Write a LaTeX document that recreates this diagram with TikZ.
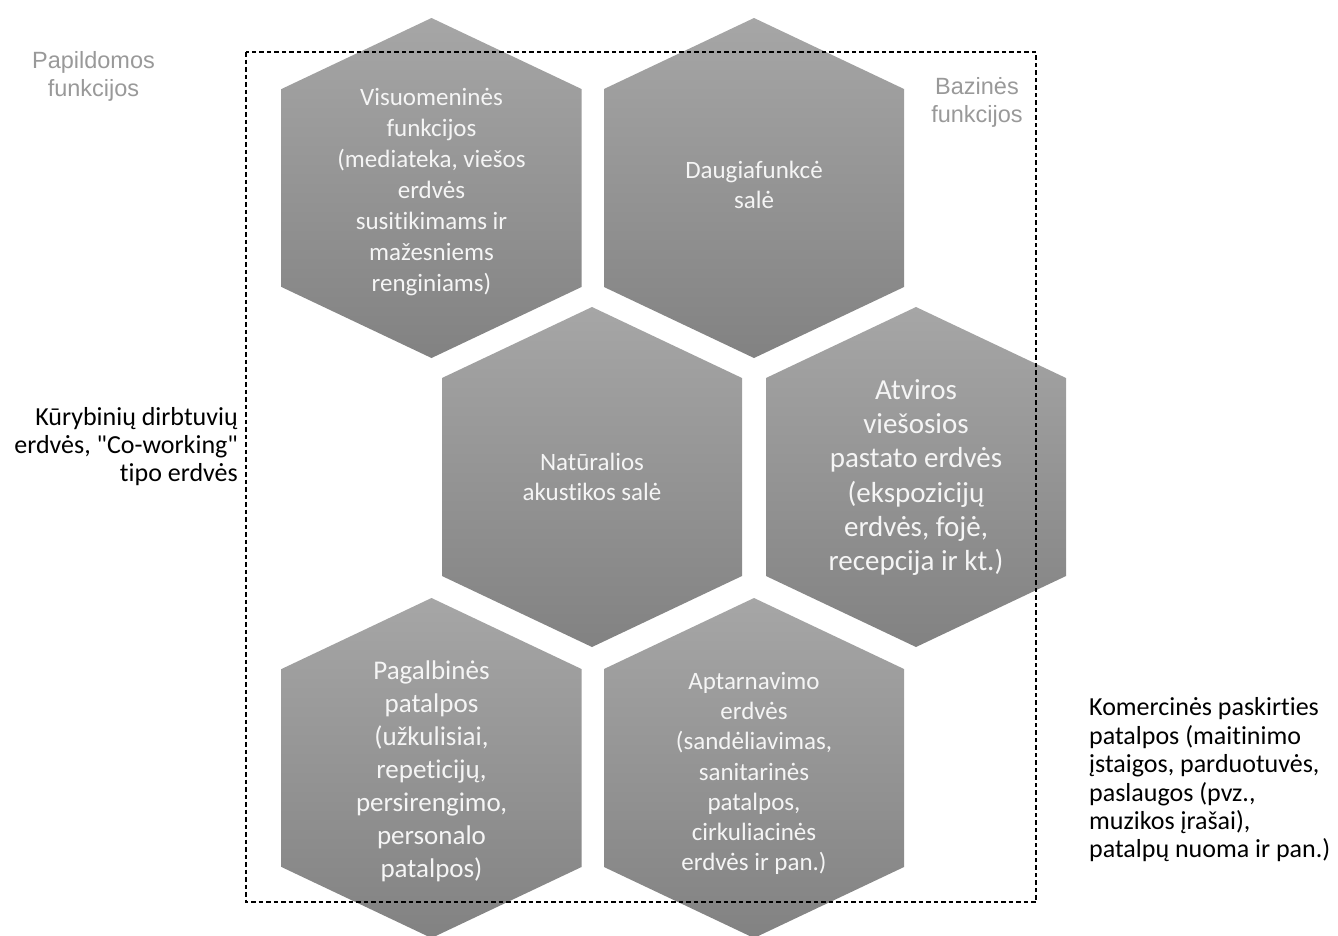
\documentclass[tikz,border=0pt]{standalone}
\usepackage{fontspec}
\setmainfont{Carlito}[Ligatures=CommonOff]
\newfontfamily\plaincarlito{Carlito}[Ligatures={TeXOff,CommonOff}]
\newfontfamily\arialf{Liberation Sans}
\usetikzlibrary{calc}
\definecolor{hexTop}{RGB}{166,166,166}
\definecolor{hexBot}{RGB}{130,130,130}
\definecolor{lblGray}{RGB}{153,153,153}
\definecolor{hexText}{RGB}{245,245,245}
\tikzset{
  hexfill/.style={top color=hexTop,bottom color=hexBot,draw=none},
  hextext/.style={text=hexText,align=center,inner sep=0pt},
  sidelbl/.style={inner sep=0pt},
  frame/.style={draw=black,line width=1.1pt,dash pattern=on 4.5pt off 3pt}
}
\newcommand\hexagon[3]{%
  \coordinate (#1) at (#2,#3);
  \path[hexfill] ($(#1)+(0,-170)$) -- ++(150,71) -- ++(0,198) -- ++(-150,71) -- ++(-150,-71) -- ++(0,-198) -- cycle;
}
\begin{document}
\begin{tikzpicture}[x=1pt,y=-1pt]
\useasboundingbox (0,0) rectangle (1338,935);
\hexagon{h1}{431.5}{188}
\hexagon{h2}{754}{188}
\hexagon{h3}{592}{477}
\hexagon{h4}{916}{477}
\hexagon{h5}{431.5}{768}
\hexagon{h6}{754}{768}

\node[hextext,font=\fontsize{25}{31}\selectfont] (t1) at (431.5,192) {Visuomeninės\\funkcijos\\(mediateka, viešos\\erdvės\\susitikimams ir\\mažesniems\\renginiams)};
\node[hextext,font=\fontsize{25}{30}\selectfont] (t2) at (754,185) {Daugiafunkcė\\salė};
\node[hextext,font=\fontsize{25}{30}\selectfont] (t3) at (592,477) {Natūralios\\akustikos salė};
\node[hextext,font=\fontsize{29}{34.2}\selectfont] (t4) at (916,477.5) {Atviros\\viešosios\\pastato erdvės\\(ekspozicijų\\erdvės, fojė,\\recepcija ir kt.)};
\node[hextext,font=\fontsize{27}{33}\selectfont] (t5) at (431.5,771) {Pagalbinės\\patalpos\\(užkulisiai,\\repeticijų,\\persirengimo,\\personalo\\patalpos)};
\node[hextext,font=\fontsize{25}{30.2}\selectfont] (t6) at (754,773.5) {Aptarnavimo\\erdvės\\(sandėliavimas,\\sanitarinės\\patalpos,\\cirkuliacinės\\erdvės ir pan.)};

\coordinate (f1) at (246,52);
\coordinate (f2) at (1036,902);
\draw[frame] (f1) rectangle (f2);

\node[sidelbl,text=lblGray,align=center,font=\arialf\fontsize{23.5}{28}\selectfont] (pap) at (93.5,76) {Papildomos\\funkcijos};
\node[sidelbl,text=lblGray,align=center,font=\arialf\fontsize{23.5}{28}\selectfont] (baz) at (977,102) {Bazinės\\funkcijos};
\node[sidelbl,align=right,anchor=east,font=\plaincarlito\fontsize{26}{28}\selectfont] (kur) at (238,447) {Kūrybinių dirbtuvių\\erdvės, "Co-working"\\tipo erdvės};
\node[sidelbl,align=left,anchor=west,font=\fontsize{26}{28.4}\selectfont] (kom) at (1089,780) {Komercinės paskirties\\patalpos (maitinimo\\įstaigos, parduotuvės,\\paslaugos (pvz.,\\muzikos įrašai),\\patalpų nuoma ir pan.)};
\end{tikzpicture}
\end{document}
